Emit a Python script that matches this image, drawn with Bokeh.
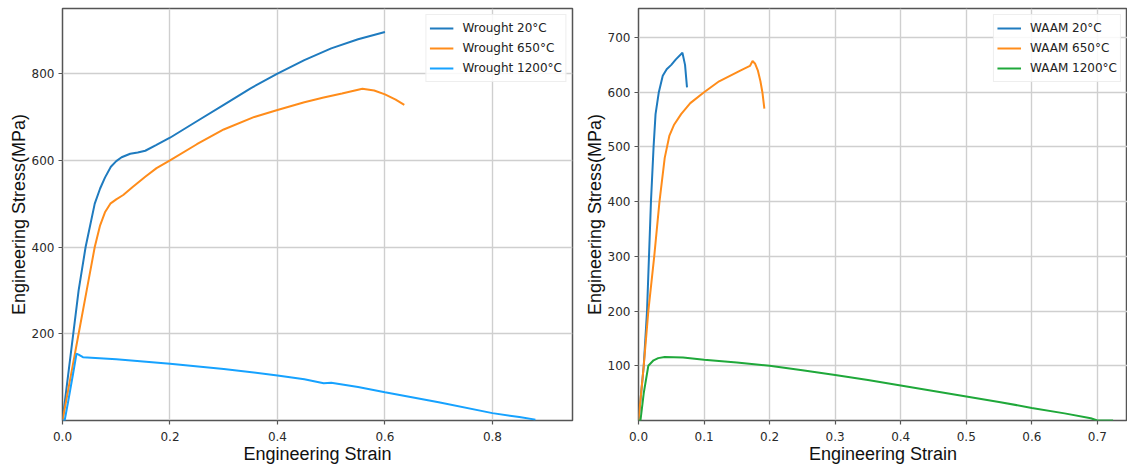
from bokeh.plotting import figure
from bokeh.layouts import row
from bokeh.models import FixedTicker, NumeralTickFormatter, Range1d
from bokeh.embed import file_html
from bokeh.resources import INLINE

# ---- data: Wrought ----
w20_strain = [0, 0.01, 0.02, 0.03, 0.043, 0.06, 0.07, 0.079, 0.09, 0.1, 0.11, 0.126, 0.14, 0.154, 0.174, 0.2,
              0.25, 0.3, 0.35, 0.4, 0.45, 0.5, 0.55, 0.6]
w20_stress = [0, 100, 200, 300, 400, 500, 535, 560, 585, 598, 607, 615, 618, 622, 635, 652,
              690, 728, 766, 800, 831, 858, 879, 896]

w650_strain = [0, 0.015, 0.03, 0.045, 0.06, 0.07, 0.079, 0.089, 0.1, 0.113, 0.13, 0.154, 0.175, 0.2, 0.25, 0.3,
               0.357, 0.4, 0.45, 0.486, 0.52, 0.558, 0.58, 0.6, 0.62, 0.636]
w650_stress = [0, 100, 200, 300, 400, 450, 480, 500, 510, 520, 538, 562, 582, 600, 637, 671,
               700, 716, 734, 745, 754, 765, 761, 752, 740, 728]

w1200_strain = [0, 0.004, 0.01, 0.02, 0.026, 0.03, 0.038, 0.1, 0.2, 0.3, 0.4, 0.45, 0.486, 0.5, 0.55, 0.6,
                0.7, 0.8, 0.85, 0.88]
w1200_stress = [0, 0, 40, 110, 154, 152, 146, 141, 131, 119, 104, 95, 86, 87, 77, 65,
                42, 17, 8, 2]

# ---- data: WAAM ----
a20_strain = [0, 0.008, 0.013, 0.016, 0.019, 0.023, 0.026, 0.031, 0.037, 0.043, 0.05, 0.057, 0.067, 0.071, 0.074]
a20_stress = [0, 100, 200, 300, 400, 500, 560, 600, 630, 642, 650, 660, 672, 650, 609]

a650_strain = [0, 0.008, 0.015, 0.024, 0.032, 0.04, 0.047, 0.054, 0.065, 0.079, 0.1, 0.123, 0.156, 0.17,
               0.174, 0.178, 0.182, 0.186, 0.189, 0.192]
a650_stress = [0, 100, 200, 300, 400, 480, 520, 540, 560, 580, 600, 620, 640, 648,
               657, 652, 640, 620, 600, 570]

a1200_strain = [0, 0.003, 0.008, 0.015, 0.023, 0.03, 0.04, 0.068, 0.1, 0.15, 0.2, 0.25, 0.3, 0.35, 0.4,
                0.45, 0.5, 0.55, 0.6, 0.65, 0.69, 0.7, 0.724]
a1200_stress = [0, 0, 50, 100, 110, 114, 116, 115, 111, 106, 100, 92, 83, 74, 64,
                54, 44, 34, 23, 13, 4, 0, 0]

left_xticks = [0.0, 0.2, 0.4, 0.6, 0.8]
left_yticks = [200, 400, 600, 800]
right_xticks = [0.0, 0.1, 0.2, 0.3, 0.4, 0.5, 0.6, 0.7]
right_yticks = [100, 200, 300, 400, 500, 600, 700]

C_BLUE = "#1f7bbf"
C_ORANGE = "#ff8c1a"
C_LBLUE = "#16a2ff"
C_GREEN = "#1fa83a"


def style(p, xticks, yticks):
    p.outline_line_color = "#555555"
    p.outline_line_width = 1.5
    for ax in (p.xaxis[0], p.yaxis[0]):
        ax.axis_line_color = None
        ax.major_tick_line_color = "#555555"
        ax.major_tick_line_width = 1.2
        ax.major_tick_out = 4
        ax.major_tick_in = 0
        ax.minor_tick_line_color = None
        ax.major_label_text_font = "DejaVu Sans"
        ax.major_label_text_font_size = "12px"
        ax.major_label_text_color = "#2a2a2a"
        ax.axis_label_text_font = "Liberation Sans"
        ax.axis_label_text_font_size = "18px"
        ax.axis_label_text_font_style = "normal"
        ax.axis_label_text_color = "#111111"
        ax.axis_label_standoff = 0
    p.xaxis[0].major_label_standoff = 7
    p.yaxis[0].major_label_standoff = 4
    p.xaxis[0].ticker = FixedTicker(ticks=xticks)
    p.yaxis[0].ticker = FixedTicker(ticks=yticks)
    p.xaxis[0].formatter = NumeralTickFormatter(format="0.0")
    p.xgrid.grid_line_color = "#cfcfcf"
    p.ygrid.grid_line_color = "#cfcfcf"
    p.xgrid.grid_line_width = 1.4
    p.ygrid.grid_line_width = 1.4
    p.background_fill_color = "white"
    p.border_fill_color = "white"
    lg = p.legend[0]
    lg.location = "top_right"
    lg.margin = 6
    lg.padding = 3
    lg.spacing = 0
    lg.label_text_font = "DejaVu Sans"
    lg.label_text_font_size = "12px"
    lg.label_text_color = "#222222"
    lg.label_height = 20
    lg.glyph_height = 20
    lg.glyph_width = 24
    lg.label_standoff = 9
    lg.border_line_color = "#dddddd"
    lg.border_line_width = 1
    lg.background_fill_alpha = 0.85


p1 = figure(width=581, height=470, output_backend="svg", toolbar_location=None,
            x_range=Range1d(0, 0.949), y_range=Range1d(0, 950),
            min_border_left=62, min_border_right=9, min_border_top=8, min_border_bottom=50,
            x_axis_label="Engineering Strain", y_axis_label="Engineering Stress(MPa)")
p1.line(w20_strain, w20_stress, line_color=C_BLUE, line_width=2, legend_label="Wrought 20°C")
p1.line(w650_strain, w650_stress, line_color=C_ORANGE, line_width=2, legend_label="Wrought 650°C")
p1.line(w1200_strain, w1200_stress, line_color=C_LBLUE, line_width=2, legend_label="Wrought 1200°C")
style(p1, left_xticks, left_yticks)

p2 = figure(width=546, height=470, output_backend="svg", toolbar_location=None,
            x_range=Range1d(0, 0.746), y_range=Range1d(0, 753),
            min_border_left=56, min_border_right=0, min_border_top=8, min_border_bottom=50,
            x_axis_label="Engineering Strain", y_axis_label="Engineering Stress(MPa)")
p2.line(a20_strain, a20_stress, line_color=C_BLUE, line_width=2, legend_label="WAAM 20°C")
p2.line(a650_strain, a650_stress, line_color=C_ORANGE, line_width=2, legend_label="WAAM 650°C")
p2.line(a1200_strain, a1200_stress, line_color=C_GREEN, line_width=2, legend_label="WAAM 1200°C")
style(p2, right_xticks, right_yticks)

layout = row(p1, p2, spacing=0)
open("out.html", "w").write(file_html(layout, INLINE))
